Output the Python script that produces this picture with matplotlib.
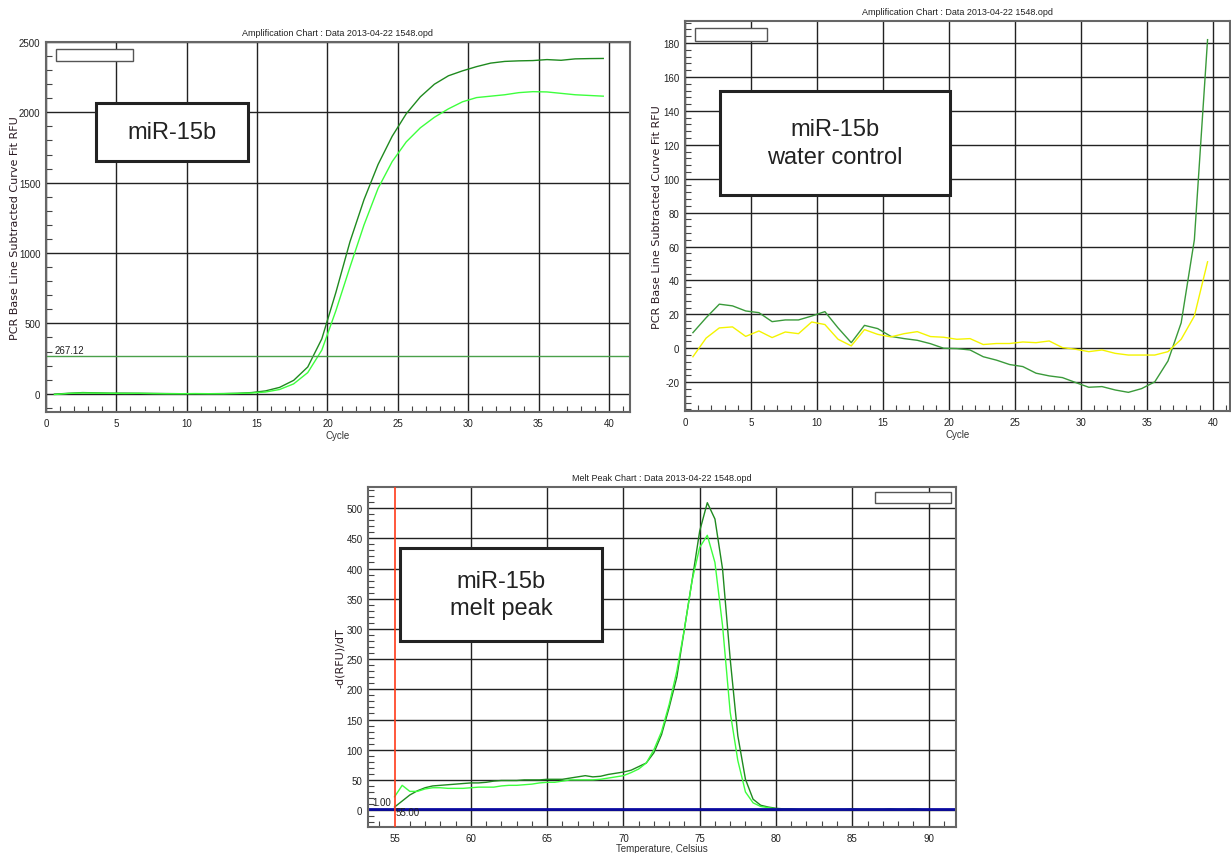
import numpy as np
import matplotlib.pyplot as plt
from matplotlib.patches import Rectangle
from matplotlib.ticker import MultipleLocator

plt.rcParams['axes.unicode_minus'] = False

W, H = 1231, 854

# amplification, miR-15b samples (cycles 0.6 .. 39.6)
cycles = np.arange(0.6, 40.0, 1.0)
amp_dark = [-3, 3, 8, 6, 4, 4, 3, 2, 1, 0, 0, 0, 1, 3, 8,
            20, 45, 95, 190, 390, 720, 1080, 1380, 1630, 1830, 1990, 2110, 2200, 2260, 2295,
            2325, 2350, 2362, 2366, 2368, 2375, 2370, 2380, 2382, 2383]
amp_light = [-6, 2, 5, 4, 3, 2, 3, 1, 0, 0, 1, 0, 0, 2, 5,
             12, 30, 70, 150, 310, 590, 900, 1200, 1460, 1650, 1790, 1890, 1965, 2025, 2075,
             2105, 2115, 2125, 2140, 2147, 2145, 2135, 2125, 2120, 2115]
threshold = 267.12

# water control
wc_green = [9.2, 18, 26, 25, 22, 21, 15.7, 16.7, 16.7, 19, 21.6, 12, 3.3, 13.5, 11.6,
            7, 5.7, 4.7, 2.7, 0, -0.2, -1, -5, -7, -9.6, -10.8, -14.7, -16.3, -17.3, -20.2,
            -23, -22.6, -24.6, -26, -23.8, -19.8, -7.5, 15, 64, 182]
wc_yellow = [-5, 6, 12, 12.6, 7, 10.2, 6.3, 9.6, 8.6, 15.5, 14, 5.3, 1.4, 11, 8.2,
             6.7, 8.6, 9.8, 6.9, 6.5, 5.3, 5.7, 2.2, 2.8, 2.8, 3.7, 3.3, 4.3, 0.4, -0.6,
             -2, -1, -3, -4, -4, -4, -2, 5.3, 19, 51]

# melt peak (55.0 .. 89.5 C, 0.5 steps)
temps = np.arange(55.0, 89.6, 0.5)
melt_dark = [5, 15, 25, 32, 37, 40, 41, 42, 43, 44, 45, 45, 46, 48, 49, 49, 49, 50, 50, 50,
             51, 51, 51, 53, 55, 57, 55, 56, 59, 61, 63, 66, 72, 78, 95, 125, 170, 220, 300, 380,
             462, 509, 482, 399, 250, 123, 51, 18, 8, 5, 3, 2, 2, 1, 1, 1, 1, 1, 1, 1,
             2, 1, 1, 1, 1, 2, 1, 1, 2, 1]
melt_light = [22, 41, 31, 31, 35, 37, 37, 36, 36, 36, 37, 38, 38, 38, 40, 41, 41, 42, 43, 45,
              46, 46, 48, 50, 50, 50, 50, 51, 53, 55, 57, 62, 68, 78, 100, 130, 175, 230, 300, 380,
              435, 455, 410, 305, 162, 82, 30, 12, 6, 4, 2, 1, 1, 1, 1, 1, 1, 1, 1, 1,
              1, 1, 1, 1, 1, 1, 1, 1, 1, 1]

DARK = '#1f8a1f'
LIGHT = '#3dff3d'
MID = '#3a9a3a'
YELLOW = '#f4f400'
SMALL = ['Liberation Sans Narrow', 'Liberation Sans', 'DejaVu Sans']


def px_rect(l, t, r, b):
    return [l / W, 1 - b / H, (r - l) / W, (b - t) / H]


def style(ax, xmaj, ymaj, xmin, ymin):
    ax.xaxis.set_major_locator(MultipleLocator(xmaj))
    ax.yaxis.set_major_locator(MultipleLocator(ymaj))
    ax.xaxis.set_minor_locator(MultipleLocator(xmin))
    ax.yaxis.set_minor_locator(MultipleLocator(ymin))
    ax.tick_params(which='both', direction='in', labelsize=7, colors='#444')
    ax.tick_params(which='major', length=0, pad=4)
    ax.tick_params(which='minor', length=4, width=0.8)
    for lab in ax.get_xticklabels() + ax.get_yticklabels():
        lab.set_family(SMALL)
        lab.set_color('#222')
    ax.grid(True, which='major', color='#222', lw=1.0)
    ax.set_axisbelow(True)
    for s in ax.spines.values():
        s.set_color('#666')
        s.set_linewidth(1.5)


def label_box(l, t, r, b, text, size=17):
    fig.patches.append(Rectangle((l / W, 1 - b / H), (r - l) / W, (b - t) / H,
                                 transform=fig.transFigure, facecolor='white',
                                 edgecolor='#222', lw=2.2, zorder=5))
    fig.text((l + r) / 2 / W, 1 - (t + b) / 2 / H, text, ha='center', va='center',
             fontsize=size, family='Liberation Sans', color='#222',
             linespacing=1.3, zorder=6)


def legend_box(l, t, r, b):
    fig.patches.append(Rectangle((l / W, 1 - b / H), (r - l) / W, (b - t) / H,
                                 transform=fig.transFigure, facecolor='white',
                                 edgecolor='#555', lw=1.0, zorder=5))


fig = plt.figure(figsize=(W / 100, H / 100), dpi=100)

# top left: amplification
ax1 = fig.add_axes(px_rect(46, 43, 630, 413))
ax1.plot(cycles, amp_dark, color=DARK, lw=1.0)
ax1.plot(cycles, amp_light, color=LIGHT, lw=1.0)
ax1.axhline(threshold, color='#4aa04a', lw=1.0)
ax1.text(0.6, threshold + 25, '267.12', fontsize=7, family=SMALL, color='#222')
ax1.set_xlim(0, 41.5)
ax1.set_ylim(-130, 2500)
style(ax1, 5, 500, 1, 100)
ax1.set_title('Amplification Chart : Data 2013-04-22 1548.opd', fontsize=6.5,
              family=SMALL, color='#222', pad=5)
ax1.set_xlabel('Cycle', fontsize=7, family=SMALL, color='#333', labelpad=2)
ax1.set_ylabel('PCR Base Line Subtracted Curve Fit RFU', fontsize=8, color='#2a1a22',
               labelpad=-1)

# top right: water control
ax2 = fig.add_axes(px_rect(685, 22, 1230, 412))
ax2.plot(cycles, wc_green, color=MID, lw=1.0)
ax2.plot(cycles, wc_yellow, color=YELLOW, lw=1.0)
ax2.set_xlim(0, 41.3)
ax2.set_ylim(-37, 193)
style(ax2, 5, 20, 1, 4)
ax2.set_title('Amplification Chart : Data 2013-04-22 1548.opd', fontsize=6.5,
              family=SMALL, color='#222', pad=5)
ax2.set_xlabel('Cycle', fontsize=7, family=SMALL, color='#333', labelpad=2)
ax2.set_ylabel('PCR Base Line Subtracted Curve Fit RFU', fontsize=8, color='#2a1a22',
               labelpad=1)

# bottom: melt peak
ax3 = fig.add_axes(px_rect(368, 488, 956, 828))
ax3.plot(temps, melt_dark, color=DARK, lw=1.0)
ax3.plot(temps, melt_light, color=LIGHT, lw=1.0)
ax3.axhline(1.0, color='#0a0aa0', lw=2.0)
ax3.axvline(55.0, color='#ff3b1a', lw=1.2, zorder=3)
ax3.text(54.8, 8, '1.00', fontsize=7, family=SMALL, color='#222', ha='right')
ax3.text(55.05, -8, '55.00', fontsize=7, family=SMALL, color='#222')
ax3.set_xlim(53.26, 91.8)
ax3.set_ylim(-28, 535)
style(ax3, 5, 50, 1, 10)
ax3.xaxis.grid(False)
for t in ax3.get_xticks():
    if t != 55:
        ax3.axvline(t, color='#222', lw=1.0, zorder=0.5)
ax3.set_title('Melt Peak Chart : Data 2013-04-22 1548.opd', fontsize=6.5,
              family=SMALL, color='#222', pad=5)
ax3.set_xlabel('Temperature, Celsius', fontsize=7, family=SMALL, color='#333', labelpad=0)
ax3.set_ylabel('-d(RFU)/dT', fontsize=8, color='#2a1a22', labelpad=1)

label_box(96, 104, 248, 162, 'miR-15b')
label_box(720, 92, 950, 196, 'miR-15b\nwater control')
label_box(400, 549, 602, 642, 'miR-15b\nmelt peak')
legend_box(56, 50, 133, 62)
legend_box(695, 29, 767, 42)
legend_box(875, 493, 951, 504)

fig.savefig('out.png', dpi=100)
